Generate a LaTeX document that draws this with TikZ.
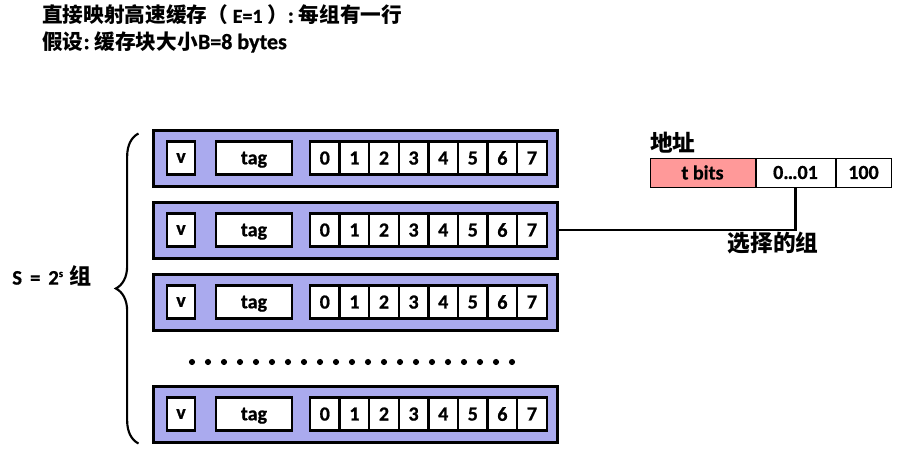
\documentclass[tikz,border=0pt]{standalone}
\usepackage{fontspec}
\setmainfont{Carlito}[UprightFont={* Bold},BoldFont={* Bold},BoldFeatures={FakeBold=0.8}]
\newfontfamily\cjk{Noto Sans CJK SC}
\usepackage{xcolor}
\usetikzlibrary{positioning,decorations.pathreplacing}
\definecolor{lineblue}{HTML}{AAAAEE}
\definecolor{tagred}{HTML}{FF9999}

\begin{document}
\begin{tikzpicture}[
  x=0.75pt,y=-0.75pt,
  font=\bfseries,
  cacheline/.style={draw=black,line width=2.25pt,fill=lineblue,minimum width=303pt,
                    minimum height=42pt,inner sep=0pt},
  cell/.style={draw=black,line width=1.9pt,fill=white,minimum height=24.75pt,
               inner sep=0pt,text depth=0pt,font=\fontsize{15}{17}\bfseries},
  vbox/.style={cell,minimum width=21pt},
  tagbox/.style={cell,minimum width=57pt},
  bytebox/.style={cell,minimum width=22.2pt},
  addr/.style={draw=black,line width=0.75pt,minimum height=21.75pt,inner sep=0pt,
               font=\fontsize{15}{17}\bfseries},
  cjklabel/.style={font=\cjk\fontsize{17}{20}\bfseries},
  link/.style={line width=2pt,black},
]
\useasboundingbox (0,0) rectangle (907,450);

% title
\node[anchor=west,inner sep=0pt] (title1) at (42,15)
  {{\cjk\fontsize{15.5}{18}\bfseries 直接映射高速缓存（}{\fontsize{15}{15}\bfseries\ E=1\ }{\cjk\fontsize{15.5}{18}\bfseries ）}{\fontsize{16.5}{18}\bfseries:\ }{\cjk\fontsize{15.5}{18}\bfseries 每组有一行}};
\node[anchor=west,inner sep=0pt] (title2) at (42,42)
  {{\cjk\fontsize{15.5}{18}\bfseries 假设}{\fontsize{16.5}{18}\bfseries:\ }{\cjk\fontsize{15.5}{18}\bfseries 缓存块大小}{\fontsize{16.5}{18}\bfseries B=8 bytes}};

% cache lines (one per set)
\foreach \r/\y in {1/158,2/230,3/302,4/414}{
  \node[cacheline] (row\r) at (355,\y) {};
  \node[vbox] (v\r) at (181,\y) {v};
  \node[tagbox] (tag\r) at (254,\y) {tag};
  \foreach \i in {0,...,7}{
    \node[bytebox] (b\r-\i) at (324.8+29.6*\i,\y) {\i};
  }
}

% more sets
\foreach \i in {0,...,20}{
  \fill (192+16*\i,362) circle (2.3pt);
}

% brace over all sets
\draw[line width=1.6pt,decorate,decoration={brace,amplitude=17pt}]
  ([xshift=-9.75pt]row4.south west) -- ([xshift=-9.75pt,yshift=-3.75pt]row1.north west);
\node[anchor=east,inner sep=0pt] (nsets) at (92,276)
  {{\fontsize{15.5}{17}\bfseries S\hspace{6pt}=\hspace{6pt}2\raisebox{0.75ex}{\fontsize{8}{9}\bfseries s}\hspace{5pt}}{\cjk\fontsize{16.5}{18}\bfseries 组}};

% address
\node[addr,fill=tagred,minimum width=78.75pt] (addr1) at (702.5,172.5) {t bits};
\node[addr,minimum width=59.25pt,right=0pt of addr1] (addr2) {0\ldots01};
\node[addr,minimum width=41.25pt,right=0pt of addr2] (addr3) {100};
\node[cjklabel,anchor=south west,inner sep=0pt] (addrlbl) at (650,154) {地址};

\draw[link] (row2.east) -| (addr2.south);
\node[cjklabel] (sellbl) at (773,243) {选择的组};
\end{tikzpicture}
\end{document}
